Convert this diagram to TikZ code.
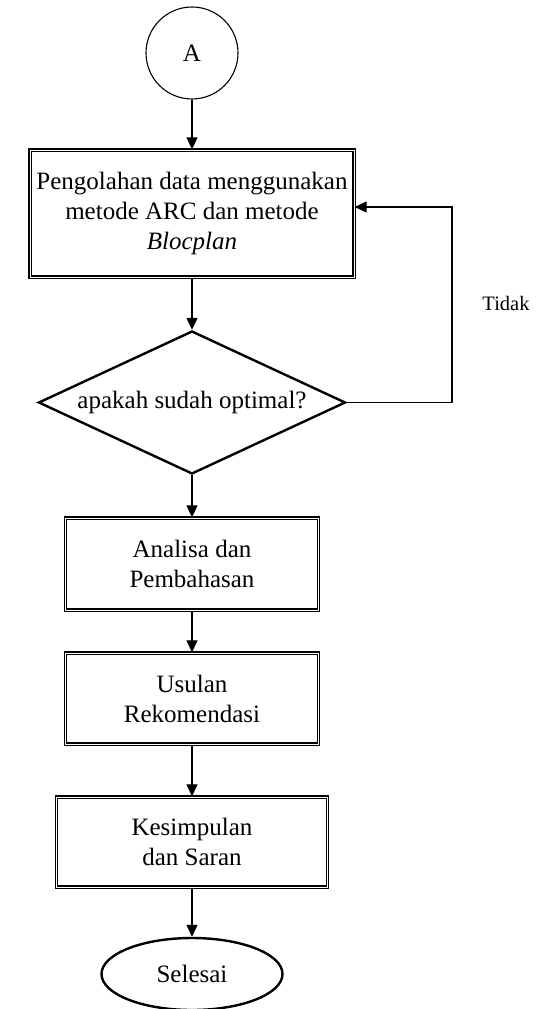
\documentclass[tikz,border=0pt]{standalone}
\usepackage{fontspec}
\setmainfont{Liberation Serif}
\usetikzlibrary{shapes.geometric,arrows.meta}
\begin{document}
\begin{tikzpicture}[x=1pt,y=1pt,
  every node/.style={font=\fontsize{25}{30}\selectfont, align=center, inner sep=0pt},
  procbox/.style={draw, line width=1.4pt, double, double distance=1pt, rectangle},
  decision/.style={draw, line width=2.4pt, diamond, aspect=2.15},
  connector/.style={draw, line width=1.1pt, circle},
  terminal/.style={draw, line width=2.4pt, ellipse},
  flow/.style={draw, line width=1.3pt, -{Triangle[length=12pt,width=11pt]}}
]
\useasboundingbox (0,0) rectangle (536,-1009);
\node[connector, minimum size=92pt] (A) at (192,-53) {A};
\node[procbox, minimum width=324pt, minimum height=127pt] (b1) at (192,-213.5)
  {Pengolahan data menggunakan\\metode ARC dan metode\\\textit{Blocplan}};
\node[decision, minimum width=307pt, minimum height=143pt] (d) at (192,-402.5) {apakah sudah optimal?};
\node[procbox, minimum width=253pt, minimum height=92pt] (b2) at (192,-564) {Analisa dan\\Pembahasan};
\node[procbox, minimum width=253pt, minimum height=91pt] (b3) at (192,-698.5) {Usulan\\Rekomendasi};
\node[procbox, minimum width=271pt, minimum height=90pt] (b4) at (192,-842) {Kesimpulan\\dan Saran};
\node[terminal, minimum width=181pt, minimum height=72pt] (e) at (192,-974) {Selesai};
\node[font=\fontsize{20.5}{24}\selectfont] (t) at (506,-303) {Tidak};
\coordinate (c1) at (452,-402.5);
\coordinate (c2) at (452,-207);
\draw[flow] (A) -- (b1);
\draw[flow] (b1) -- (d);
\draw[flow] (d) -- (b2);
\draw[flow] (b2) -- (b3);
\draw[flow] (b3) -- (b4);
\draw[flow] (b4) -- (e);
\draw[flow] (d.east) -- (c1) -- (c2) -- (c2 -| b1.east);
\end{tikzpicture}
\end{document}
